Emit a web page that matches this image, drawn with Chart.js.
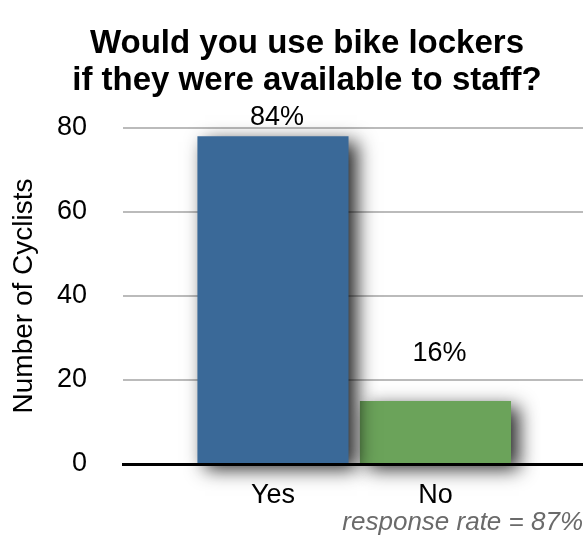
<!DOCTYPE html>
<html>
<head>
<meta charset="utf-8">
<script src="https://cdn.jsdelivr.net/npm/chart.js@4.4.0/dist/chart.umd.min.js"></script>
<style>
html,body{margin:0;padding:0;background:#ffffff;}
#wrap{width:583px;height:541px;}
</style>
</head>
<body>
<div id="wrap"><canvas id="c" width="583" height="541"></canvas></div>
<script>
// ---- data ----
const categories = ['Yes', 'No'];
const cyclists = [78, 15];
const percentLabels = ['84%', '16%'];
const yTickValues = [0, 20, 40, 60, 80];
const titleLines = ['Would you use bike lockers', 'if they were available to staff?'];
const yAxisTitle = 'Number of Cyclists';
const footnote = 'response rate = 87%';
const barColors = ['#3a6998', '#6ba35a'];

const FONT = "'Liberation Sans', Arial, Helvetica, sans-serif";

// bars are listed last-category-first so the taller bar's shadow falls over its neighbour
const barPoints = categories.map((c, i) => ({ x: i, y: cyclists[i] })).reverse();

const barShadow = {
  id: 'barShadow',
  beforeDatasetsDraw(chart) {
    const ctx = chart.ctx;
    ctx.save();
    ctx.shadowColor = 'rgba(0,0,0,0.85)';
    ctx.shadowBlur = 18;
    ctx.shadowOffsetX = 8;
    ctx.shadowOffsetY = 6;
  },
  afterDatasetsDraw(chart) {
    chart.ctx.restore();
  }
};

const pctLabels = {
  id: 'pctLabels',
  afterDraw(chart, args, opts) {
    const ctx = chart.ctx;
    const meta = chart.getDatasetMeta(0);
    const pts = chart.data.datasets[0].data;
    ctx.save();
    ctx.font = opts.size + 'px ' + FONT;
    ctx.fillStyle = '#000';
    ctx.textAlign = 'center';
    ctx.textBaseline = 'middle';
    meta.data.forEach((bar, j) => {
      const i = pts[j].x;
      ctx.fillText(percentLabels[i], bar.x + opts.dx, bar.y - opts.offsets[i]);
    });
    ctx.restore();
  }
};

new Chart(document.getElementById('c'), {
  type: 'bar',
  data: {
    datasets: [{
      data: barPoints,
      backgroundColor: (ctx) => barColors[ctx.raw ? ctx.raw.x : 0],
      borderWidth: 0,
      barPercentage: 0.93,
      categoryPercentage: 1,
      clip: false
    }]
  },
  options: {
    responsive: false,
    animation: false,
    layout: { padding: { left: 31, right: 0, top: 0, bottom: 0 } },
    plugins: {
      legend: { display: false },
      tooltip: { enabled: false },
      title: {
        display: true,
        text: titleLines,
        color: '#000',
        font: { family: FONT, size: 33, weight: 'bold', lineHeight: 1.12 },
        padding: { top: 25, bottom: 29 }
      },
      pctLabels: { size: 27, dx: 4, offsets: [19, 47] }
    },
    scales: {
      x: {
        type: 'linear',
        offset: false,
        min: -0.923,
        max: 1.908,
        z: 1,
        afterBuildTicks(scale) { scale.ticks = categories.map((c, i) => ({ value: i })); },
        afterFit(scale) { scale.height = 77; },
        grid: { display: false, drawTicks: false, offset: false },
        border: { display: true, color: '#000', width: 3 },
        ticks: {
          color: '#000',
          padding: 15,
          font: { family: FONT, size: 27 },
          callback: (v) => categories[v]
        },
        title: {
          display: true,
          text: footnote,
          align: 'end',
          color: '#6a6a6a',
          font: { family: FONT, size: 26, style: 'italic', lineHeight: 1.2 },
          padding: { top: 0, bottom: 2.4 }
        }
      },
      y: {
        min: 0,
        max: 80,
        afterBuildTicks(scale) { scale.ticks = yTickValues.map(v => ({ value: v })); },
        afterFit(scale) { scale.width = 92; },
        grid: {
          drawTicks: false,
          lineWidth: 2,
          color: (ctx) => (ctx.tick && ctx.tick.value === 0) ? 'rgba(0,0,0,0)' : '#bbbbbb'
        },
        border: { display: false },
        ticks: {
          color: '#000',
          padding: 36,
          font: { family: FONT, size: 27 }
        },
        title: {
          display: true,
          text: yAxisTitle,
          color: '#000',
          font: { family: FONT, size: 28, lineHeight: 1.2 },
          padding: { top: -24, bottom: 0 }
        }
      }
    }
  },
  plugins: [barShadow, pctLabels]
});
</script>
</body>
</html>
